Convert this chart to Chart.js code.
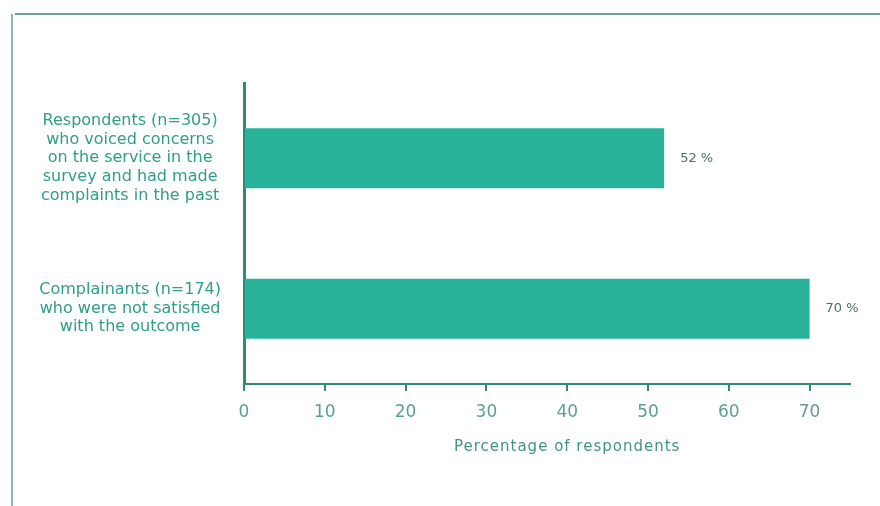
<!DOCTYPE html>
<html>
<head>
<meta charset="utf-8">
<script src="https://cdn.jsdelivr.net/npm/chart.js@4"></script>
<style>
  html, body { margin: 0; padding: 0; background: #ffffff; }
  canvas { display: block; }
</style>
</head>
<body>
<canvas id="chart" width="880" height="506"></canvas>
<script>
// Respondent groups (multi-line category labels)
const categories = [
  ['Respondents (n=305)', 'who voiced concerns', 'on the service in the', 'survey and had made', 'complaints in the past'],
  ['Complainants (n=174)', 'who were not satisfied', 'with the outcome']
];
// Share of each group, in percent
const percentages = [52, 70];
// Tick values along the percentage axis
const xTicks = [0, 10, 20, 30, 40, 50, 60, 70];
const axisTitle = 'Percentage of respondents';

const FONT = "'DejaVu Sans', 'Liberation Sans', sans-serif";
const TEAL = '#29b29a';
const AXIS = '#2e8b7b';
const LABEL = '#2f9d89';

// White page with the thin frame lines at the top and left
const framePlugin = {
  id: 'frame',
  beforeDraw(chart) {
    const ctx = chart.ctx;
    ctx.save();
    ctx.fillStyle = '#ffffff';
    ctx.fillRect(0, 0, chart.width, chart.height);
    ctx.strokeStyle = '#6f9f97';
    ctx.lineWidth = 2;
    ctx.beginPath();
    ctx.moveTo(15, 14);
    ctx.lineTo(chart.width, 14);
    ctx.stroke();
    ctx.strokeStyle = '#8fb8b0';
    ctx.beginPath();
    ctx.moveTo(12, 14);
    ctx.lineTo(12, chart.height);
    ctx.stroke();
    ctx.restore();
  }
};

// "NN %" next to the end of each bar
const valueLabels = {
  id: 'valueLabels',
  afterDatasetsDraw(chart) {
    const ctx = chart.ctx;
    const meta = chart.getDatasetMeta(0);
    ctx.save();
    ctx.font = '13px ' + FONT;
    ctx.fillStyle = '#4d6b64';
    ctx.textAlign = 'left';
    ctx.textBaseline = 'middle';
    meta.data.forEach((bar, i) => {
      ctx.fillText(percentages[i] + ' %', bar.x + 16, bar.y);
    });
    ctx.restore();
  }
};

// Axis title under the percentage ticks
const xTitle = {
  id: 'xTitle',
  afterDraw(chart) {
    const x = chart.scales.x;
    const ctx = chart.ctx;
    ctx.save();
    ctx.font = '15px ' + FONT;
    if ('letterSpacing' in ctx) ctx.letterSpacing = '1px';
    ctx.fillStyle = '#3f9485';
    ctx.textAlign = 'center';
    ctx.textBaseline = 'middle';
    ctx.fillText(axisTitle, x.getPixelForValue(40), x.bottom - 59);
    ctx.restore();
  }
};

new Chart(document.getElementById('chart'), {
  type: 'bar',
  data: {
    labels: categories,
    datasets: [{
      data: percentages,
      backgroundColor: TEAL,
      borderWidth: 0,
      barPercentage: 0.4,
      categoryPercentage: 1
    }]
  },
  options: {
    indexAxis: 'y',
    responsive: false,
    animation: false,
    layout: { padding: { top: 83, right: 30, left: 0, bottom: 0 } },
    plugins: {
      legend: { display: false },
      tooltip: { enabled: false }
    },
    scales: {
      y: {
        type: 'category',
        grid: { display: false },
        border: { display: true, color: AXIS, width: 3 },
        ticks: {
          crossAlign: 'center',
          padding: 15,
          color: LABEL,
          font: { family: FONT, size: 16, lineHeight: 1.16 }
        },
        afterFit(scale) { scale.width = 244; }
      },
      x: {
        type: 'linear',
        min: 0,
        max: 75,
        afterBuildTicks(scale) {
          scale.ticks = xTicks.map(v => ({ value: v }));
        },
        grid: {
          drawOnChartArea: false,
          drawTicks: true,
          tickLength: 7,
          color: AXIS,
          lineWidth: 2
        },
        border: { display: true, color: AXIS, width: 2 },
        ticks: {
          padding: 11,
          color: '#5f9d93',
          font: { family: FONT, size: 17 }
        },
        afterFit(scale) { scale.height = 122; }
      }
    }
  },
  plugins: [framePlugin, valueLabels, xTitle]
});
</script>
</body>
</html>
